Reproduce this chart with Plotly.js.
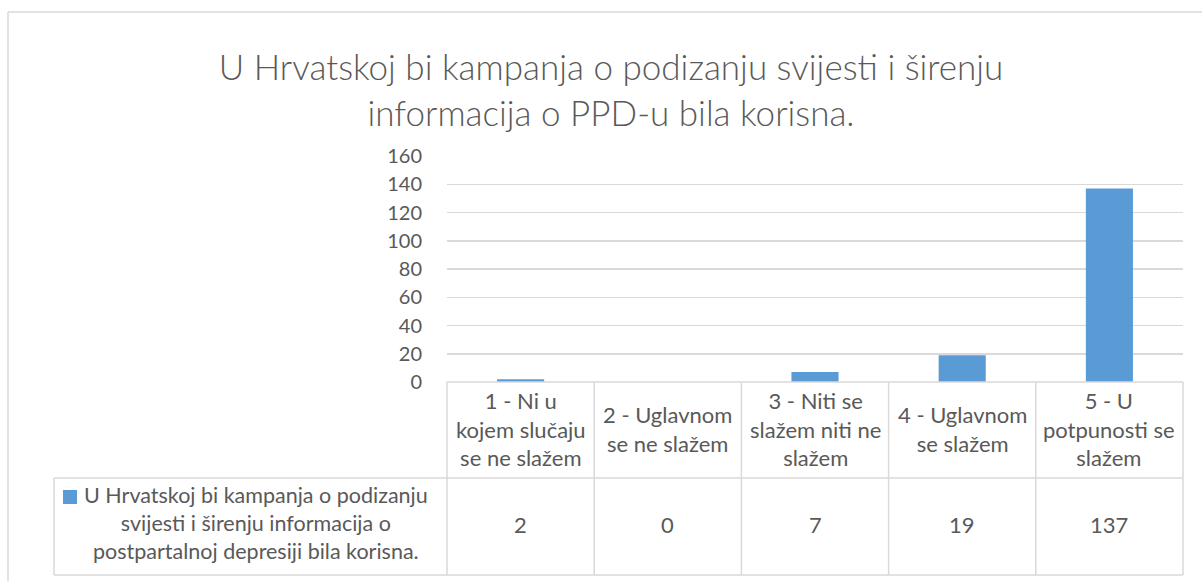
<!DOCTYPE html>
<html>
<head>
<meta charset="utf-8">
<script src="https://cdn.plot.ly/plotly-3.0.1.min.js"></script>
<style>html,body{margin:0;padding:0;background:#fff;}#chart{width:1202px;height:581px;}</style>
</head>
<body>
<div id="chart"></div>
<script>
var titleText = "U Hrvatskoj bi kampanja o podizanju svijesti i širenju<br>informacija o PPD-u bila korisna.";
var categories = ["1 - Ni u kojem slučaju se ne slažem", "2 - Uglavnom se ne slažem", "3 - Niti se slažem niti ne slažem", "4 - Uglavnom se slažem", "5 - U potpunosti se slažem"];
var categoryLabels = ["1 - Ni u<br>kojem slučaju<br>se ne slažem", "2 - Uglavnom<br>se ne slažem", "3 - Niti se<br>slažem niti ne<br>slažem", "4 - Uglavnom<br>se slažem", "5 - U<br>potpunosti se<br>slažem"];
var values = [2, 0, 7, 19, 137];
var seriesName = "U Hrvatskoj bi kampanja o podizanju<br>svijesti i širenju informacija o<br>postpartalnoj depresiji bila korisna.";
var yTicks = [0, 20, 40, 60, 80, 100, 120, 140, 160];

var FONT = "Lato, 'Open Sans', sans-serif";
var TXT = "#595959";
var GRID = "#d9d9d9";
var BAR = "#5b9bd5";

var W = 1202, H = 581, L = 447, R = 1183, T = 156, B = 382;
var pw = R - L, ph = B - T;
function px2xd(px) { return (px - L) / pw; }
function py2yp(py) { return (B - py) / ph; }

var n = categories.length;
var shapes = [];
var annotations = [];

// outer chart border (top and left)
shapes.push({type: 'line', xref: 'x domain', yref: 'paper', x0: px2xd(8), x1: px2xd(1210), y0: py2yp(12), y1: py2yp(12), line: {color: GRID, width: 1.5}});
shapes.push({type: 'line', xref: 'x domain', yref: 'paper', x0: px2xd(8), x1: px2xd(8), y0: py2yp(12), y1: py2yp(590), line: {color: GRID, width: 1.5}});

// data table lines
var rowMid = py2yp(478), rowBot = py2yp(575), legLeft = px2xd(54);
shapes.push({type: 'line', xref: 'x domain', yref: 'paper', x0: 0, x1: 1, y0: 0, y1: 0, line: {color: GRID, width: 1.5}});
shapes.push({type: 'line', xref: 'x domain', yref: 'paper', x0: legLeft, x1: 1, y0: rowMid, y1: rowMid, line: {color: GRID, width: 1.5}});
shapes.push({type: 'line', xref: 'x domain', yref: 'paper', x0: legLeft, x1: 1, y0: rowBot, y1: rowBot, line: {color: GRID, width: 1.5}});
shapes.push({type: 'line', xref: 'x domain', yref: 'paper', x0: legLeft, x1: legLeft, y0: rowMid, y1: rowBot, line: {color: GRID, width: 1.5}});
for (var i = 0; i <= n; i++) {
  shapes.push({type: 'line', xref: 'x domain', yref: 'paper', x0: i / n, x1: i / n, y0: 0, y1: rowBot, line: {color: GRID, width: 1.5}});
}
// legend key
shapes.push({type: 'rect', xref: 'x domain', yref: 'paper', x0: px2xd(63), x1: px2xd(77), y0: py2yp(504), y1: py2yp(490), fillcolor: BAR, line: {width: 0}});

for (var j = 0; j < n; j++) {
  annotations.push({xref: 'x', yref: 'paper', x: categories[j], y: py2yp(429), text: categoryLabels[j], showarrow: false, font: {family: FONT, size: 22, color: TXT}, align: 'center', xanchor: 'center', yanchor: 'middle'});
  annotations.push({xref: 'x', yref: 'paper', x: categories[j], y: py2yp(524), text: String(values[j]), showarrow: false, font: {family: FONT, size: 22, color: TXT}, xanchor: 'center', yanchor: 'middle'});
}
annotations.push({xref: 'x domain', yref: 'paper', x: px2xd(256), y: py2yp(523), text: seriesName, showarrow: false, font: {family: FONT, size: 21.5, color: TXT}, align: 'center', xanchor: 'center', yanchor: 'middle'});

var trace = {
  type: 'bar',
  x: categories,
  y: values,
  marker: {color: BAR},
  hoverinfo: 'x+y'
};

var layout = {
  width: W, height: H,
  margin: {l: L, r: W - R, t: T, b: H - B, pad: 0},
  paper_bgcolor: '#ffffff',
  plot_bgcolor: '#ffffff',
  showlegend: false,
  bargap: 0.68,
  title: {text: titleText, font: {family: FONT, size: 35, color: TXT, weight: 300}, xref: 'container', x: 611 / W, xanchor: 'center', yref: 'container', y: 1 - 80 / H, yanchor: 'top'},
  xaxis: {showticklabels: false, showgrid: false, zeroline: false, showline: false, ticks: '', range: [-0.5, n - 0.5], fixedrange: true},
  yaxis: {range: [0, 160], tickvals: yTicks, showgrid: true, gridcolor: GRID, gridwidth: 1.5, zeroline: false, showline: false, ticks: '', ticklabelstandoff: 24, tickfont: {family: FONT, size: 20, color: TXT}, fixedrange: true},
  shapes: shapes,
  annotations: annotations
};

Plotly.newPlot('chart', [trace], layout, {displayModeBar: false, staticPlot: true});
</script>
</body>
</html>
